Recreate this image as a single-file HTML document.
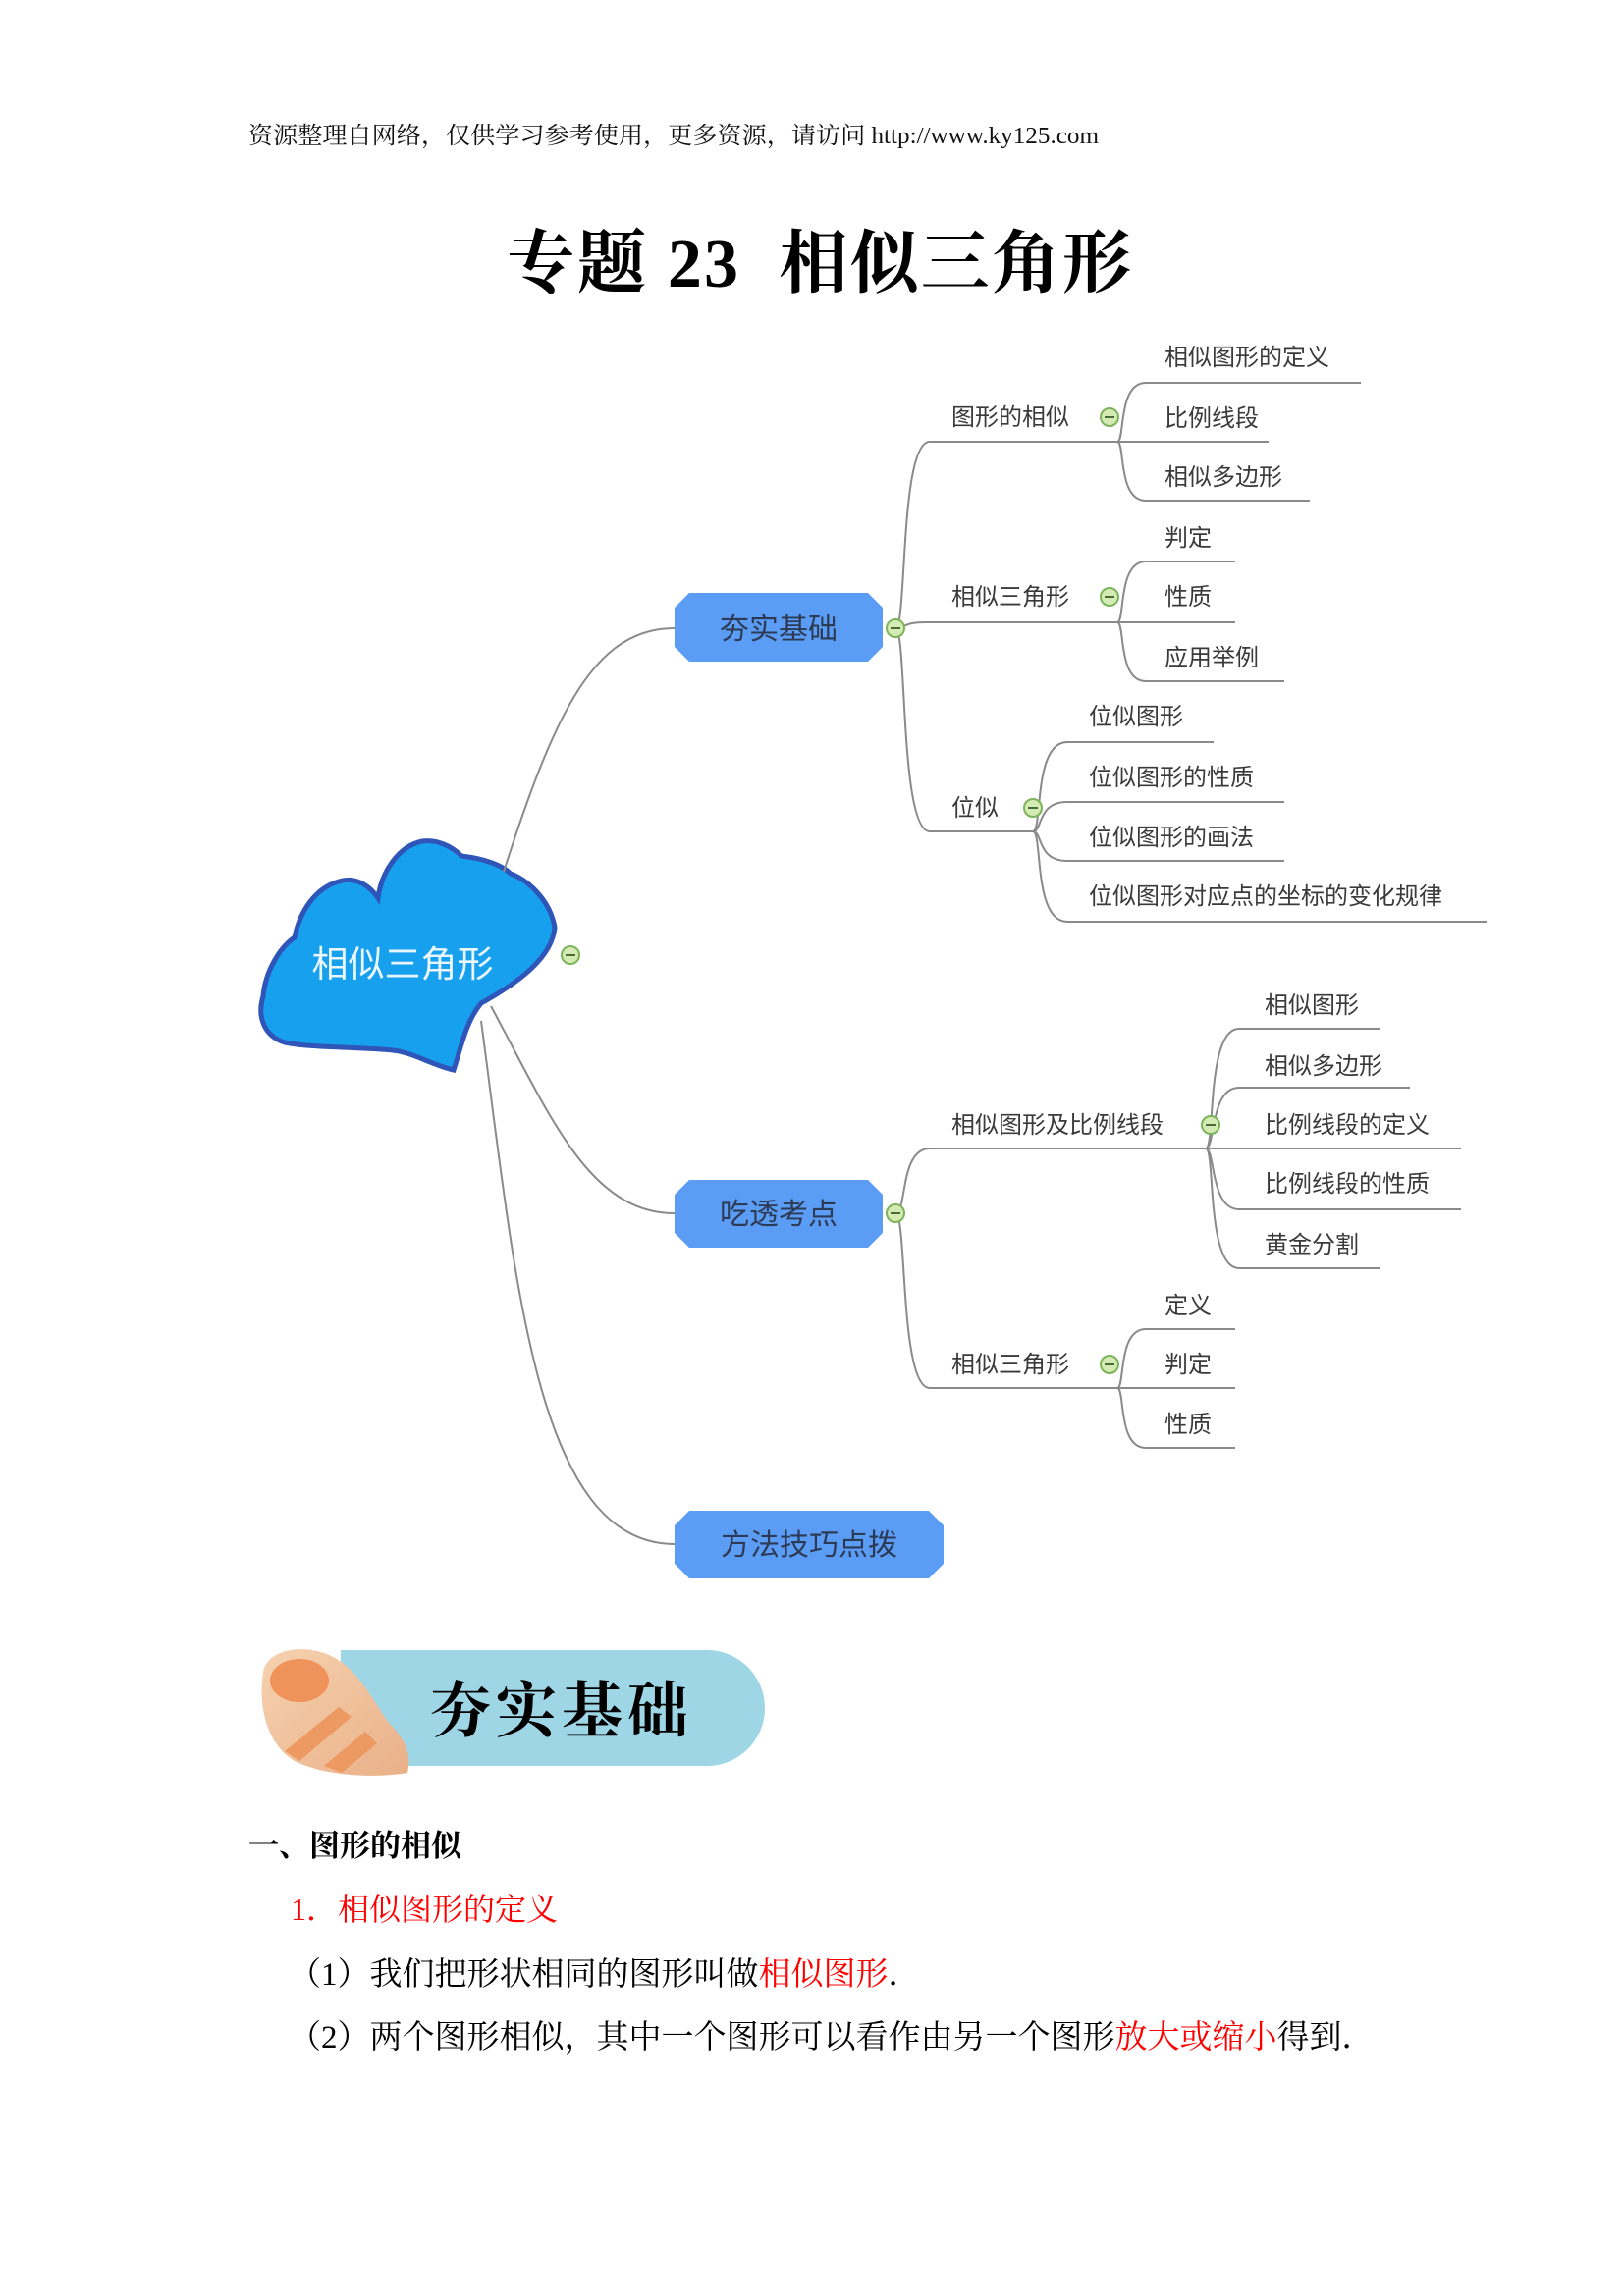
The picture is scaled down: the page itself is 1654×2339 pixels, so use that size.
<!DOCTYPE html>
<html><head><meta charset="utf-8"><style>
html,body{margin:0;padding:0;background:#fff;}
body{width:1654px;height:2339px;position:relative;overflow:hidden;}
svg{position:absolute;left:0;top:0;}
.l{font-family:"Liberation Sans","Noto Sans CJK SC",sans-serif;font-size:24px;fill:#3a3a3a;}
.b{font-family:"Liberation Sans","Noto Sans CJK SC",sans-serif;font-size:30px;fill:#2c3a55;}
.s{font-family:"Liberation Serif","Noto Serif CJK SC",serif;}
.ln{fill:none;stroke:#8a8a8a;stroke-width:2;}
.c{fill:#d4ebb4;stroke:#7db35a;stroke-width:2;}
.m{stroke:#4a6b38;stroke-width:2;}
</style></head><body>
<svg width="1654" height="2339" viewBox="0 0 1654 2339">
<text x="253" y="146" class="s" font-size="24" fill="#111" textLength="866" lengthAdjust="spacingAndGlyphs">资源整理自网络，仅供学习参考使用，更多资源，请访问 http://www.ky125.com</text>
<text x="516" y="292" class="s" font-size="70" font-weight="bold" fill="#000" textLength="636" xml:space="preserve">专题 23  相似三角形</text>

<!-- cloud -->
<path d="M290,1062 C268,1055 262,1035 268,1015 C270,990 285,965 300,955 C305,930 320,905 345,898 C360,893 375,900 385,915 C388,890 405,862 430,857 C445,855 460,862 470,872 C495,875 512,882 520,890 C535,895 560,915 565,945 C562,975 530,1000 490,1022 C475,1040 470,1065 462,1090 C440,1085 420,1072 400,1070 C360,1066 320,1068 290,1062 Z" fill="#17a0ee" stroke="#2f55b8" stroke-width="5"/>
<text x="410" y="995" font-family="Liberation Sans,Noto Sans CJK SC,sans-serif" font-size="37" fill="#eaf6ff" text-anchor="middle">相似三角形</text>
<circle class="c" cx="581" cy="973" r="9"/><path class="m" d="M576,973h10"/>

<path class="ln" d="M513,888 C565,726 605,640 687,640"/>
<path class="ln" d="M500,1025 C560,1136 600,1236 687,1236"/>
<path class="ln" d="M490,1040 C525,1300 545,1573 687,1573"/>

<!-- A: 夯实基础 -->
<g transform="translate(-8,-4)">
<path class="ln" d="M920,644 C932,644 924,454 955,454 L1146,454"/>
<path class="ln" d="M920,644 C930,644 928,638 950,638 L1146,638"/>
<path class="ln" d="M920,644 C932,644 924,851 955,851 L1060,851"/>
<path class="ln" d="M1146,454 C1154,454 1146,394 1175,394 L1394,394"/>
<path class="ln" d="M1146,454 L1300,454"/>
<path class="ln" d="M1146,454 C1154,454 1146,514 1175,514 L1342,514"/>
<path class="ln" d="M1146,638 C1154,638 1146,576 1175,576 L1266,576"/>
<path class="ln" d="M1146,638 L1266,638"/>
<path class="ln" d="M1146,638 C1154,638 1146,698 1175,698 L1316,698"/>
<path class="ln" d="M1060,851 C1070,851 1060,760 1095,760 L1244,760"/>
<path class="ln" d="M1060,851 C1070,851 1064,821 1095,821 L1316,821"/>
<path class="ln" d="M1060,851 C1070,851 1064,881 1095,881 L1316,881"/>
<path class="ln" d="M1060,851 C1070,851 1060,943 1095,943 L1522,943"/>
<polygon points="710,608 892,608 907,623 907,663 892,678 710,678 695,663 695,623" fill="#5b9df4"/>
<text x="801" y="655" class="b" text-anchor="middle">夯实基础</text>
<g class="c"><circle cx="920" cy="644" r="9"/><circle cx="1138" cy="429" r="9"/><circle cx="1138" cy="612" r="9"/><circle cx="1060" cy="827" r="9"/></g>
<path class="m" d="M915,644h10M1133,429h10M1133,612h10M1055,827h10"/>
<g class="l">
<text x="977" y="437">图形的相似</text>
<text x="977" y="620">相似三角形</text>
<text x="977" y="835">位似</text>
<text x="1194" y="376">相似图形的定义</text>
<text x="1194" y="438">比例线段</text>
<text x="1194" y="498">相似多边形</text>
<text x="1194" y="560">判定</text>
<text x="1194" y="620">性质</text>
<text x="1194" y="682">应用举例</text>
<text x="1117" y="742">位似图形</text>
<text x="1117" y="804">位似图形的性质</text>
<text x="1117" y="865">位似图形的画法</text>
<text x="1117" y="925">位似图形对应点的坐标的变化规律</text>
</g>
</g>

<!-- B: 吃透考点 -->
<g transform="translate(-8,-9)">
<path class="ln" d="M920,1245 C932,1245 924,1179 955,1179 L1236,1179"/>
<path class="ln" d="M920,1245 C932,1245 924,1423 955,1423 L1146,1423"/>
<path class="ln" d="M1236,1179 C1246,1179 1236,1057 1270,1057 L1414,1057"/>
<path class="ln" d="M1236,1179 C1246,1179 1240,1117 1270,1117 L1444,1117"/>
<path class="ln" d="M1236,1179 L1496,1179"/>
<path class="ln" d="M1236,1179 C1246,1179 1240,1241 1270,1241 L1496,1241"/>
<path class="ln" d="M1236,1179 C1246,1179 1236,1301 1270,1301 L1414,1301"/>
<path class="ln" d="M1146,1423 C1154,1423 1146,1363 1175,1363 L1266,1363"/>
<path class="ln" d="M1146,1423 L1266,1423"/>
<path class="ln" d="M1146,1423 C1154,1423 1146,1484 1175,1484 L1266,1484"/>
<polygon points="710,1211 892,1211 907,1226 907,1265 892,1280 710,1280 695,1265 695,1226" fill="#5b9df4"/>
<text x="801" y="1256" class="b" text-anchor="middle">吃透考点</text>
<g class="c"><circle cx="920" cy="1245" r="9"/><circle cx="1241" cy="1155" r="9"/><circle cx="1138" cy="1399" r="9"/></g>
<path class="m" d="M915,1245h10M1236,1155h10M1133,1399h10"/>
<g class="l">
<text x="977" y="1163">相似图形及比例线段</text>
<text x="977" y="1407">相似三角形</text>
<text x="1296" y="1041">相似图形</text>
<text x="1296" y="1103">相似多边形</text>
<text x="1296" y="1163">比例线段的定义</text>
<text x="1296" y="1223">比例线段的性质</text>
<text x="1296" y="1285">黄金分割</text>
<text x="1194" y="1347">定义</text>
<text x="1194" y="1407">判定</text>
<text x="1194" y="1468">性质</text>
</g>
</g>

<!-- C -->
<g transform="translate(-8,-12)">
<polygon points="710,1551 954,1551 969,1566 969,1605 954,1620 710,1620 695,1605 695,1566" fill="#5b9df4"/>
<text x="832" y="1596" class="b" text-anchor="middle">方法技巧点拨</text>
</g>

<!-- banner -->
<g transform="translate(0,-6)">
<defs><linearGradient id="sh" x1="0" y1="0" x2="1" y2="1"><stop offset="0" stop-color="#f6d2b0"/><stop offset="1" stop-color="#eab088"/></linearGradient></defs>
<rect x="347" y="1687" width="432" height="118" rx="59" fill="#9fd6e6"/>
<rect x="347" y="1687" width="100" height="118" fill="#9fd6e6"/>
<path d="M268,1710 C270,1690 300,1680 330,1690 C360,1700 375,1730 395,1760 C410,1775 420,1790 415,1812 C380,1818 330,1815 300,1800 C275,1785 262,1750 268,1710 Z" fill="url(#sh)"/>
<ellipse cx="305" cy="1718" rx="30" ry="22" fill="#f0935a"/>
<path d="M290,1790 L345,1745 L358,1755 L305,1800 Z M330,1805 L372,1770 L384,1782 L348,1812 Z" fill="#ec9a62"/>
<text x="572" y="1770" font-family="Liberation Serif,Noto Serif CJK SC,serif" font-weight="bold" font-size="62" letter-spacing="5" fill="#000" text-anchor="middle">夯实基础</text>
</g>

<text x="253" y="1891" class="s" font-size="31" font-weight="bold" fill="#000">一、图形的相似</text>
<text x="296" y="1956" class="s" font-size="32" fill="#f00">1．相似图形的定义</text>
<text x="294" y="2022" class="s" font-size="33" fill="#000">（1）我们把形状相同的图形叫做<tspan fill="#f00">相似图形</tspan>．</text>
<text x="294" y="2086" class="s" font-size="33" fill="#000">（2）两个图形相似，其中一个图形可以看作由另一个图形<tspan fill="#f00">放大或缩小</tspan>得到．</text>
</svg>
</body></html>
